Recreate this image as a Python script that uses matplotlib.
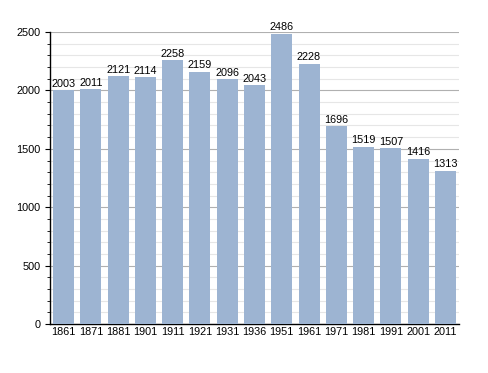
import matplotlib
matplotlib.use("Agg")
import matplotlib.pyplot as plt
from matplotlib.ticker import MultipleLocator

# Population by census year
years = ['1861', '1871', '1881', '1901', '1911', '1921', '1931', '1936',
         '1951', '1961', '1971', '1981', '1991', '2001', '2011']
population = [2003, 2011, 2121, 2114, 2258, 2159, 2096, 2043,
              2486, 2228, 1696, 1519, 1507, 1416, 1313]

plt.rcParams['font.family'] = ['Liberation Sans', 'DejaVu Sans']

fig = plt.figure(figsize=(4.88, 3.73), dpi=100)
ax = fig.add_axes([0.1025, 0.1314, 0.838, 0.7826])

x = range(len(years))
ax.bar(x, population, width=0.77, color='#9db4d2', zorder=3)
for xi, v in zip(x, population):
    ax.text(xi, v + 12, str(v), ha='center', va='bottom', fontsize=7.8, zorder=4)

ax.set_xlim(-0.5, len(years) - 0.5)
ax.set_ylim(0, 2500)
ax.set_xticks(list(x))
ax.set_xticklabels(years)
ax.yaxis.set_major_locator(MultipleLocator(500))
ax.yaxis.set_minor_locator(MultipleLocator(100))

ax.grid(axis='y', which='major', color='#b0b0b0', linewidth=0.8, zorder=0)
ax.grid(axis='y', which='minor', color='#e6e6e6', linewidth=0.8, zorder=0)

for side in ['top', 'right']:
    ax.spines[side].set_visible(False)
ax.spines['left'].set_linewidth(1.0)
ax.spines['bottom'].set_linewidth(1.0)

ax.tick_params(axis='x', length=0, labelsize=7.8, pad=2)
ax.tick_params(axis='y', which='major', length=3.5, labelsize=7.8)
ax.tick_params(axis='y', which='minor', length=2)

fig.savefig('out.png', dpi=100)
